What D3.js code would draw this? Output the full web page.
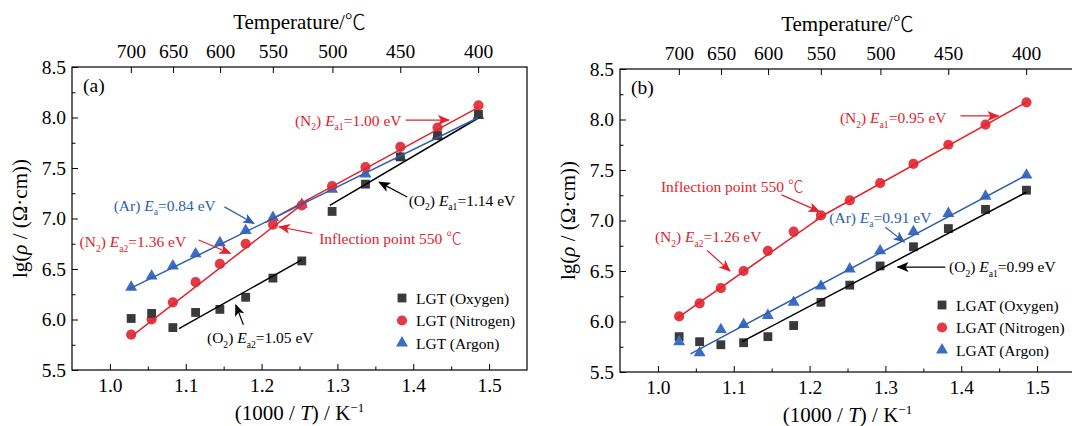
<!DOCTYPE html>
<html>
<head>
<meta charset="utf-8">
<script src="https://cdn.jsdelivr.net/npm/d3@7"></script>
<style>
  body { margin: 0; background: #fff; }
  svg text { font-family: "Liberation Serif", "Times New Roman", serif; }
</style>
</head>
<body>
<svg id="chart" width="1072" height="426"></svg>
<script>
// 1000/T positions of the measured temperatures (700 -> 400 C, step 25)
const invT = [1.028, 1.055, 1.083, 1.113, 1.145, 1.179, 1.215, 1.253, 1.293, 1.337, 1.383, 1.432, 1.486];
const tempTicks = [700, 650, 600, 550, 500, 450, 400];
const xTicks = [1.0, 1.1, 1.2, 1.3, 1.4, 1.5];
const yTicks = [5.5, 6.0, 6.5, 7.0, 7.5, 8.0, 8.5];

// panel (a) LGT
const lgtOxygen = [6.01, 6.06, 5.92, 6.07, 6.10, 6.22, 6.41, 6.58, 7.07, 7.34, 7.61, 7.82, 8.03];
const lgtNitrogen = [5.85, 6.00, 6.17, 6.37, 6.55, 6.75, 6.94, 7.13, 7.32, 7.51, 7.71, 7.90, 8.12];
const lgtArgon = [6.32, 6.43, 6.53, 6.65, 6.76, 6.88, 7.01, 7.14, 7.29, 7.44, 7.61, 7.82, 8.02];

// panel (b) LGAT
const lgatOxygen = [5.85, 5.80, 5.77, 5.79, 5.85, 5.96, 6.19, 6.36, 6.55, 6.74, 6.92, 7.11, 7.30];
const lgatNitrogen = [6.05, 6.18, 6.33, 6.50, 6.70, 6.89, 7.05, 7.20, 7.37, 7.56, 7.75, 7.95, 8.17];
const lgatArgon = [5.80, 5.69, 5.92, 5.97, 6.06, 6.19, 6.35, 6.52, 6.70, 6.89, 7.07, 7.24, 7.45];

// fitted segments [[x1, y1], [x2, y2]]
const lgtFitOxygen = [[[1.091, 5.91], [1.253, 6.59]], [[1.290, 7.13], [1.487, 8.00]]];
const lgtFitNitrogen = [[[1.028, 5.83], [1.262, 7.19]], [[1.205, 6.96], [1.486, 8.10]]];
const lgtFitArgon = [[[1.025, 6.30], [1.486, 8.00]]];
const lgatFitOxygen = [[[1.111, 5.80], [1.486, 7.28]]];
const lgatFitNitrogen = [[[1.025, 6.03], [1.222, 7.07]], [[1.208, 7.01], [1.488, 8.18]]];
const lgatFitArgon = [[[1.043, 5.68], [1.486, 7.45]]];

const red = '#e3222b';
const blue = '#2d5fae';
const black = '#000';

// annotation text pieces: i = italic, sub = subscript
const n2a1 = (v) => [{ t: '(N' }, { t: '2', sub: true }, { t: ') ' }, { t: 'E', i: true }, { t: 'a1', sub: true }, { t: `=${v} eV` }];
const n2a2 = (v) => [{ t: '(N' }, { t: '2', sub: true }, { t: ') ' }, { t: 'E', i: true }, { t: 'a2', sub: true }, { t: `=${v} eV` }];
const o2a1 = (v) => [{ t: '(O' }, { t: '2', sub: true }, { t: ') ' }, { t: 'E', i: true }, { t: 'a1', sub: true }, { t: `=${v} eV` }];
const o2a2 = (v) => [{ t: '(O' }, { t: '2', sub: true }, { t: ') ' }, { t: 'E', i: true }, { t: 'a2', sub: true }, { t: `=${v} eV` }];
const arA = (v) => [{ t: '(Ar) ' }, { t: 'E', i: true }, { t: 'a', sub: true }, { t: `=${v} eV` }];
const inflection = [{ t: 'Inflection point 550 ' }, { t: '℃', cjk: true }];

// text anchor (data coords) and arrow from -> to (data coords)
const notesA = [
  { parts: n2a1('1.00'), color: red, at: [1.244, 7.975], from: [1.39, 7.975], to: [1.447, 7.975] },
  { parts: o2a1('1.14'), color: black, at: [1.394, 7.183], from: [1.392, 7.213], to: [1.355, 7.36] },
  { parts: arA('0.84'), color: blue, at: [1.005, 7.132], from: [1.151, 7.115], to: [1.19, 6.95] },
  { parts: n2a2('1.36'), color: red, at: [0.96, 6.769], from: [1.117, 6.787], to: [1.159, 6.654] },
  { parts: inflection, color: red, at: [1.276, 6.803], from: [1.267, 6.852], to: [1.223, 6.918] },
  { parts: o2a2('1.05'), color: black, at: [1.128, 5.817], from: [1.176, 5.948], to: [1.166, 6.145] }
];
const notesB = [
  { parts: n2a1('0.95'), color: red, at: [1.24, 8.018], from: [1.399, 8.035], to: [1.449, 8.035] },
  { parts: inflection, color: red, at: [1.004, 7.338], from: [1.163, 7.254], to: [1.213, 7.088] },
  { parts: n2a2('1.26'), color: red, at: [0.996, 6.837], from: [1.065, 6.703], to: [1.095, 6.5] },
  { parts: arA('0.91'), color: blue, at: [1.226, 7.033], from: [1.3, 6.934], to: [1.325, 6.786] },
  { parts: o2a1('0.99'), color: black, at: [1.384, 6.54], from: [1.379, 6.539], to: [1.316, 6.539] }
];

const legendA = ['LGT (Oxygen)', 'LGT (Nitrogen)', 'LGT (Argon)'];
const legendB = ['LGAT (Oxygen)', 'LGAT (Nitrogen)', 'LGAT (Argon)'];

const squareStyle = { color: '#3a3a3a', shape: d3.symbolSquare, size: 78 };
const circleStyle = { color: '#e23b45', shape: d3.symbolCircle, size: 82 };
const triangleStyle = { color: '#3d6cc4', shape: d3.symbolTriangle, size: 62 };

const panels = [
  {
    left: 72, top: 67, tag: '(a)',
    series: [
      { values: lgtArgon, ...triangleStyle },
      { values: lgtNitrogen, ...circleStyle },
      { values: lgtOxygen, ...squareStyle }
    ],
    fits: [
      { segs: lgtFitOxygen, color: black },
      { segs: lgtFitNitrogen, color: red },
      { segs: lgtFitArgon, color: blue }
    ],
    notes: notesA, legend: legendA, legendPos: [330, 231]
  },
  {
    left: 620, top: 69, tag: '(b)',
    series: [
      { values: lgatOxygen, ...squareStyle },
      { values: lgatNitrogen, ...circleStyle },
      { values: lgatArgon, ...triangleStyle }
    ],
    fits: [
      { segs: lgatFitOxygen, color: black },
      { segs: lgatFitNitrogen, color: red },
      { segs: lgatFitArgon, color: blue }
    ],
    notes: notesB, legend: legendB, legendPos: [322, 236]
  }
];

const width = 455;
const height = 303;
const svg = d3.select('#chart');

const defs = svg.append('defs');
[['red', red], ['blue', blue], ['black', black]].forEach(([id, c]) => {
  defs.append('marker')
    .attr('id', `arrow-${id}`)
    .attr('viewBox', '0 0 12 10')
    .attr('refX', 11).attr('refY', 5)
    .attr('markerWidth', 12).attr('markerHeight', 10)
    .attr('markerUnits', 'userSpaceOnUse')
    .attr('orient', 'auto')
    .append('path')
    .attr('d', 'M0,0 L12,5 L0,10 L3,5 Z')
    .attr('fill', c);
});
const arrowId = (c) => (c === red ? 'arrow-red' : c === blue ? 'arrow-blue' : 'arrow-black');

function richText(sel, parts, size) {
  let shift = 0;
  parts.forEach((p) => {
    const target = p.sub ? size * 0.28 : p.sup ? -size * 0.38 : 0;
    const ts = sel.append('tspan').text(p.t).attr('dy', target - shift);
    shift = target;
    if (p.i) ts.attr('font-style', 'italic');
    if (p.sub || p.sup) ts.attr('font-size', size * 0.62);
    if (p.cjk) ts.style('font-family', '"Noto Sans CJK SC", sans-serif').attr('font-weight', 300);
  });
}

panels.forEach((p) => {
  const g = svg.append('g').attr('transform', `translate(${p.left},${p.top})`);
  const x = d3.scaleLinear().domain([0.95, 1.55]).range([0, width]);
  const y = d3.scaleLinear().domain([5.5, 8.5]).range([height, 0]);

  // bottom axis
  const xAxis = g.append('g').attr('transform', `translate(0,${height})`)
    .call(d3.axisBottom(x).tickValues(xTicks).tickSize(-6).tickPadding(8).tickFormat(d3.format('.1f')));
  g.append('g').attr('transform', `translate(0,${height})`)
    .call(d3.axisBottom(x).tickValues(d3.range(1.05, 1.55, 0.1)).tickSize(-3.5).tickFormat(''));

  // left axis
  const yAxis = g.append('g')
    .call(d3.axisLeft(y).tickValues(yTicks).tickSize(-6).tickPadding(6).tickFormat(d3.format('.1f')));
  g.append('g')
    .call(d3.axisLeft(y).tickValues(d3.range(5.75, 8.5, 0.5)).tickSize(-3.5).tickFormat(''));

  // top axis: temperature
  const tempAxis = g.append('g')
    .call(d3.axisTop(x)
      .tickValues(tempTicks.map((t) => 1000 / (t + 273.15)))
      .tickSize(-6).tickPadding(9)
      .tickFormat((d, i) => tempTicks[i]));

  g.selectAll('.domain').remove();
  g.selectAll('.tick line').attr('stroke', '#000').attr('stroke-width', 1);
  [xAxis, yAxis, tempAxis].forEach((a) => a.selectAll('text').attr('font-size', 19.5).attr('fill', '#000'));

  g.append('rect')
    .attr('width', width).attr('height', height)
    .attr('fill', 'none').attr('stroke', '#000').attr('stroke-width', 1.2);

  // titles
  const tt = g.append('text')
    .attr('x', x(1.25)).attr('y', -38)
    .attr('text-anchor', 'middle').attr('font-size', 21);
  richText(tt, [{ t: 'Temperature/' }, { t: '℃', cjk: true }], 21);

  const xt = g.append('text')
    .attr('x', x(1.25)).attr('y', height + 50)
    .attr('text-anchor', 'middle').attr('font-size', 21);
  richText(xt, [{ t: '(1000 / ' }, { t: 'T', i: true }, { t: ') / K' }, { t: '−1', sup: true }], 21);

  const yt = g.append('text')
    .attr('transform', `translate(-45,${height / 2}) rotate(-90)`)
    .attr('text-anchor', 'middle').attr('font-size', 21);
  richText(yt, [{ t: 'lg(' }, { t: 'ρ', i: true }, { t: ' / (Ω·cm))' }], 21);

  g.append('text')
    .attr('x', 11).attr('y', 25)
    .attr('font-size', 19.5).text(p.tag);

  // scatter points
  p.series.forEach((s) => {
    g.append('g').selectAll('path')
      .data(s.values)
      .join('path')
      .attr('transform', (d, i) => `translate(${x(invT[i])},${y(d)})`)
      .attr('d', d3.symbol().type(s.shape).size(s.size))
      .attr('fill', s.color);
  });

  // fitted lines
  const line = d3.line().x((d) => x(d[0])).y((d) => y(d[1]));
  p.fits.forEach((f) => {
    g.append('g').selectAll('path')
      .data(f.segs)
      .join('path')
      .attr('d', line)
      .attr('fill', 'none')
      .attr('stroke', f.color)
      .attr('stroke-width', 1.5);
  });

  // annotations
  p.notes.forEach((n) => {
    const t = g.append('text')
      .attr('x', x(n.at[0])).attr('y', y(n.at[1]) + 5.5)
      .attr('font-size', 15.5).attr('fill', n.color);
    richText(t, n.parts, 15.5);
    g.append('line')
      .attr('x1', x(n.from[0])).attr('y1', y(n.from[1]))
      .attr('x2', x(n.to[0])).attr('y2', y(n.to[1]))
      .attr('stroke', n.color).attr('stroke-width', 1.2)
      .attr('marker-end', `url(#${arrowId(n.color)})`);
  });

  // legend: oxygen, nitrogen, argon
  const legendStyle = [squareStyle, circleStyle, triangleStyle];
  const lg = g.append('g').attr('transform', `translate(${p.legendPos[0]},${p.legendPos[1]})`);
  p.legend.forEach((label, i) => {
    lg.append('path')
      .attr('transform', `translate(0,${i * 22.5})`)
      .attr('d', d3.symbol().type(legendStyle[i].shape).size(legendStyle[i].size))
      .attr('fill', legendStyle[i].color);
    lg.append('text')
      .attr('x', 14).attr('y', i * 22.5 + 5.5)
      .attr('font-size', 15.5).text(label);
  });
});
</script>
</body>
</html>
